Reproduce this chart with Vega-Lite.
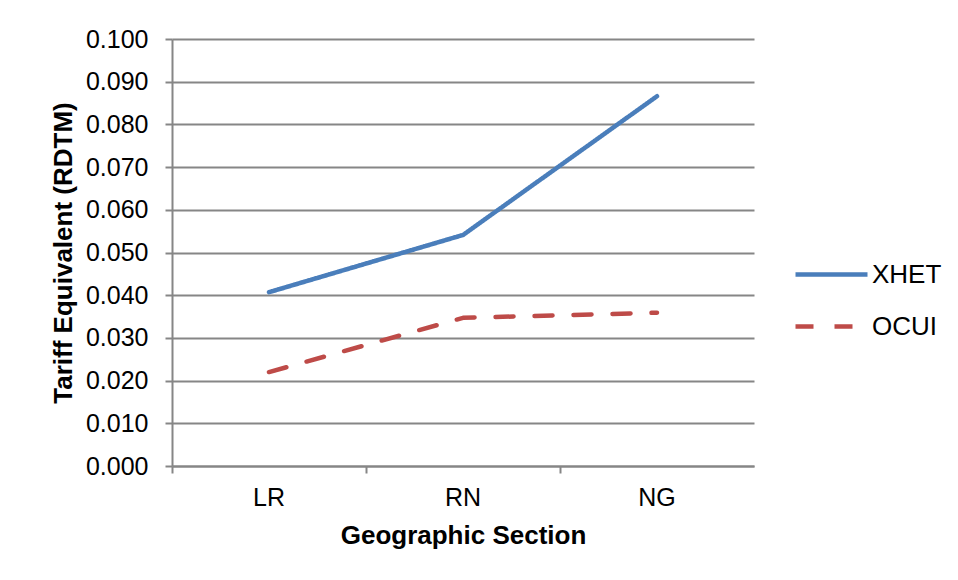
{
  "$schema": "https://vega.github.io/schema/vega-lite/v6.json",
  "width": 582,
  "height": 427,
  "autosize": {"type": "none"},
  "padding": {"left": 172, "top": 39, "right": 204, "bottom": 114},
  "background": "white",
  "data": {
    "values": [
      {"section": "LR", "series": "XHET", "value": 0.0407},
      {"section": "RN", "series": "XHET", "value": 0.0541},
      {"section": "NG", "series": "XHET", "value": 0.0866},
      {"section": "LR", "series": "OCUI", "value": 0.0220},
      {"section": "RN", "series": "OCUI", "value": 0.0347},
      {"section": "NG", "series": "OCUI", "value": 0.0359}
    ]
  },
  "mark": {"type": "line", "strokeWidth": 4.5, "strokeCap": "round", "strokeJoin": "round"},
  "encoding": {
    "x": {
      "field": "section",
      "type": "nominal",
      "sort": ["LR", "RN", "NG"],
      "scale": {"type": "band", "paddingInner": 0, "paddingOuter": 0},
      "axis": {
        "title": "Geographic Section",
        "titleFont": "Liberation Sans",
        "titleFontSize": 26,
        "titleFontWeight": "bold",
        "titleColor": "black",
        "titlePadding": 12,
        "labelFont": "Liberation Sans",
        "labelFontSize": 25,
        "labelColor": "black",
        "labelAngle": 0,
        "labelPadding": 12,
        "bandPosition": 0,
        "tickSize": 7,
        "tickColor": "#868686",
        "tickWidth": 2,
        "domainColor": "#868686",
        "domainWidth": 2,
        "grid": false
      }
    },
    "y": {
      "field": "value",
      "type": "quantitative",
      "scale": {"domain": [0, 0.1], "nice": false},
      "axis": {
        "title": "Tariff Equivalent (RDTM)",
        "titleFont": "Liberation Sans",
        "titleFontSize": 26,
        "titleFontWeight": "bold",
        "titleColor": "black",
        "titlePadding": 9,
        "values": [0, 0.01, 0.02, 0.03, 0.04, 0.05, 0.06, 0.07, 0.08, 0.09, 0.1],
        "format": ".3f",
        "labelFont": "Liberation Sans",
        "labelFontSize": 25,
        "labelColor": "black",
        "labelPadding": 17,
        "tickSize": 7,
        "tickColor": "#868686",
        "tickWidth": 2,
        "domainColor": "#868686",
        "domainWidth": 2,
        "grid": true,
        "gridColor": "#868686",
        "gridWidth": 2
      }
    },
    "color": {
      "field": "series",
      "type": "nominal",
      "sort": ["XHET", "OCUI"],
      "scale": {"domain": ["XHET", "OCUI"], "range": ["#4A7EBB", "#BE4B48"]},
      "legend": {
        "title": null,
        "orient": "none",
        "legendX": 621,
        "legendY": 197,
        "symbolType": "stroke",
        "symbolSize": 5184,
        "symbolStrokeWidth": 4.5,
        "labelFont": "Liberation Sans",
        "labelFontSize": 26,
        "labelColor": "black",
        "labelOffset": 2,
        "rowPadding": -10
      }
    },
    "strokeDash": {
      "field": "series",
      "type": "nominal",
      "sort": ["XHET", "OCUI"],
      "scale": {"domain": ["XHET", "OCUI"], "range": [[1, 0], [18, 21]]},
      "legend": null
    }
  },
  "config": {
    "view": {"stroke": null}
  }
}
